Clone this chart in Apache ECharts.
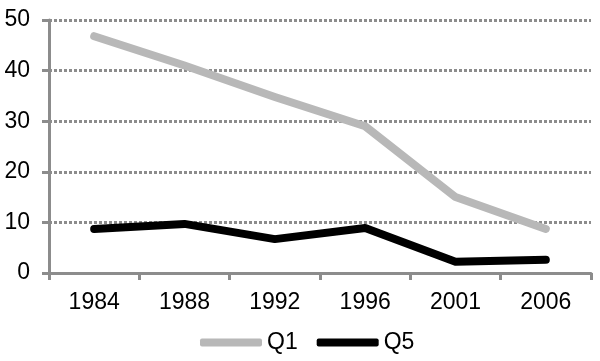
<!DOCTYPE html>
<html><head><meta charset="utf-8">
<script src="https://cdn.jsdelivr.net/npm/echarts@6/dist/echarts.min.js"></script>
<style>html,body{margin:0;padding:0;background:#fff}#c{width:600px;height:361px}</style>
</head><body><div id="c"></div>
<script>
const categories = ['1984','1988','1992','1996','2001','2006'];
const q1 = [46.8, 41, 34.8, 29, 15, 8.7];
const q5 = [8.7, 9.7, 6.7, 8.9, 2.2, 2.6];
const yTicks = [0, 10, 20, 30, 40, 50];

const chart = echarts.init(document.getElementById('c'));
const font = 'Liberation Sans, Arial, sans-serif';
chart.setOption({
  animation: false,
  grid: { left: 49, right: 9, top: 20, bottom: 88 },
  legend: {
    bottom: 2, left: 195,
    itemWidth: 62, itemHeight: 8, itemGap: 19,
    icon: 'roundRect',
    textStyle: { fontFamily: font, fontSize: 23, color: '#000', padding: [0,0,0,0] },
    data: ['Q1', 'Q5']
  },
  xAxis: {
    type: 'category', data: categories, boundaryGap: true,
    axisLine: { lineStyle: { color: '#8c8c8c', width: 3 } },
    axisTick: { show: true, length: 7, lineStyle: { color: '#8c8c8c', width: 3 } },
    axisLabel: { fontFamily: font, fontSize: 23, color: '#000', margin: 18 }
  },
  yAxis: {
    type: 'value', min: 0, max: 50, interval: 10,
    axisLine: { show: true, lineStyle: { color: '#8c8c8c', width: 3 } },
    axisTick: { show: true, length: 7, lineStyle: { color: '#8c8c8c', width: 3 } },
    axisLabel: { fontFamily: font, fontSize: 23, color: '#000', margin: 19,
      formatter: v => yTicks.includes(v) ? String(v) : '' },
    splitLine: { show: true, lineStyle: { color: '#8c8c8c', width: 3, type: [3, 2] } }
  },
  series: [
    { name: 'Q1', type: 'line', data: q1, symbol: 'none', color: '#b8b8b8',
      lineStyle: { width: 8, color: '#b8b8b8', cap: 'round', join: 'round' } },
    { name: 'Q5', type: 'line', data: q5, symbol: 'none', color: '#000',
      lineStyle: { width: 8, color: '#000', cap: 'round', join: 'round' } }
  ]
});
</script></body></html>
